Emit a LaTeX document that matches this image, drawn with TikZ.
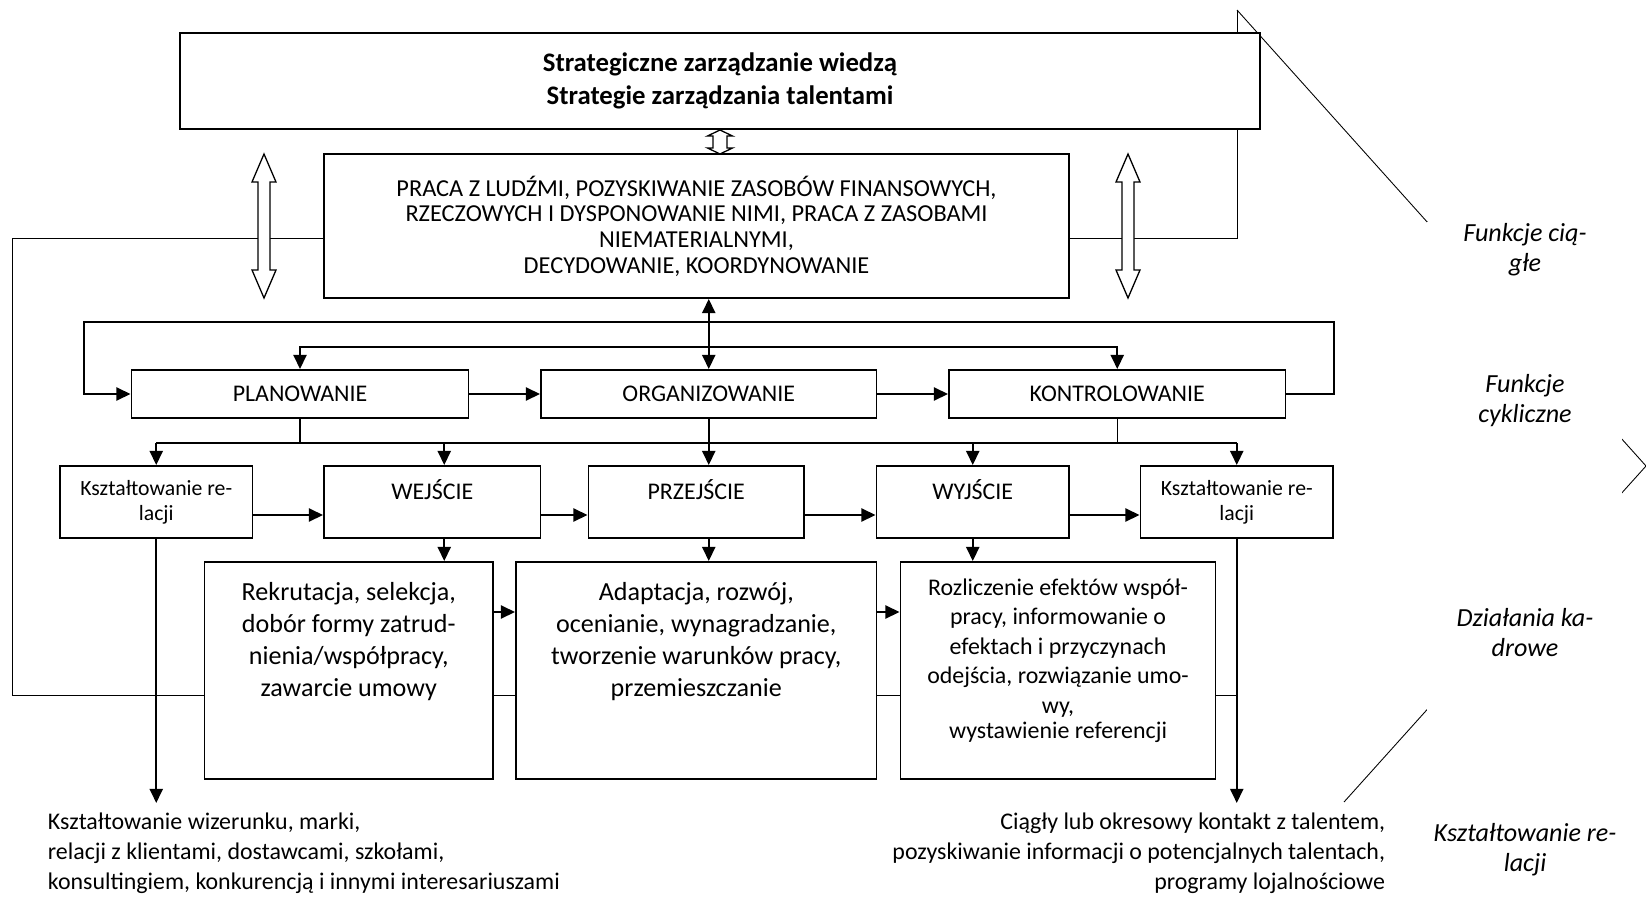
\documentclass[tikz,border=0pt]{standalone}
\usepackage{fontspec}
\setmainfont{Carlito}
\usetikzlibrary{positioning,arrows.meta,backgrounds}

\newcommand{\px}{0.46pt}
% hollow double arrow: x, top, bottom, half shaft, half head, head length
\newcommand{\dblarrow}[6]{%
  \draw[line width=0.6pt,fill=white] (#1,#2) -- (#1+#5,#2+#6) -- (#1+#4,#2+#6) -- (#1+#4,#3-#6)
    -- (#1+#5,#3-#6) -- (#1,#3) -- (#1-#5,#3-#6) -- (#1-#4,#3-#6)
    -- (#1-#4,#2+#6) -- (#1-#5,#2+#6) -- cycle;}

\begin{document}
\begin{tikzpicture}[x=\px,y=-\px,>={Triangle[length=6.5pt,width=6pt]},
  every node/.style={font=\fontsize{11}{13.8}\selectfont},
  box/.style 2 args={draw,line width=0.9pt,fill=white,inner sep=0pt,
    minimum width=#1*\px,minimum height=#2*\px},
  stage/.style={text height=15.5pt,text depth=17.6pt},
  kszt/.style={align=center,font=\fontsize{10}{11.5}\selectfont},
  inbox/.style={anchor=north,align=center,inner sep=0pt},
  side/.style={align=center,font=\itshape\fontsize{12}{13.8}\selectfont},
  conn/.style={line width=1pt},
  thinline/.style={line width=0.7pt}]
\useasboundingbox (0,0) rectangle (1646,899);

% strategy and continuous functions
\node[box={1080}{96},align=center,font=\bfseries\fontsize{12.3}{15}\selectfont] (strat) at (720,81)
  {Strategiczne zarządzanie wiedzą\\Strategie zarządzania talentami};
\node[box={745}{144},align=center,font=\fontsize{11.2}{11.8}\selectfont] (praca) at (696.5,226)
  {PRACA Z LUDŹMI, POZYSKIWANIE ZASOBÓW FINANSOWYCH,\\RZECZOWYCH I DYSPONOWANIE NIMI, PRACA Z ZASOBAMI\\NIEMATERIALNYMI,\\DECYDOWANIE, KOORDYNOWANIE};

% cyclic functions
\node[box={337}{48}] (plan) at (300,394) {PLANOWANIE};
\node[box={335.5}{48}] (org) at (708.75,394) {ORGANIZOWANIE};
\node[box={336.5}{48}] (kontr) at (1117.25,394) {KONTROLOWANIE};

% stages
\node[box={192.5}{72},kszt] (ksztL) at (156.25,502) {Kształtowanie re-\\lacji};
\node[box={216.5}{72},stage] (wej) at (432.25,502) {WEJŚCIE};
\node[box={215.5}{72},stage] (prz) at (696.25,502) {PRZEJŚCIE};
\node[box={192.5}{72},stage] (wyj) at (972.75,502) {WYJŚCIE};
\node[box={192.5}{72},kszt] (ksztR) at (1236.75,502) {Kształtowanie re-\\lacji};

% personnel actions
\node[box={288.5}{217}] (rekr) at (348.75,670.5) {};
\node[inbox,font=\fontsize{12}{14.7}\selectfont] (rekrtxt) at ([yshift=-21*\px]rekr.north)
  {Rekrutacja, selekcja,\\dobór formy zatrud-\\nienia/współpracy,\\zawarcie umowy};
\node[box={360.5}{217}] (adapt) at (696.25,670.5) {};
\node[inbox,font=\fontsize{12}{14.7}\selectfont] (adapttxt) at ([yshift=-21*\px]adapt.north)
  {Adaptacja, rozwój,\\ocenianie, wynagradzanie,\\tworzenie warunków pracy,\\przemieszczanie};
\node[box={315}{217}] (rozl) at (1058,670.5) {};
\node[inbox,font=\fontsize{11}{13.6}\selectfont] (rozltxt) at ([yshift=-17*\px]rozl.north)
  {Rozliczenie efektów współ-\\pracy, informowanie o\\efektach i przyczynach\\odejścia, rozwiązanie umo-\\wy,\\[-2pt]wystawienie referencji};

% relations
\node[anchor=north west,align=left,inner sep=0pt] (wizerunek) at (47.5,812)
  {Kształtowanie wizerunku, marki,\\relacji z klientami, dostawcami, szkołami,\\konsultingiem, konkurencją i innymi interesariuszami};
\node[anchor=north east,align=right,inner sep=0pt] (kontakt) at (1385.5,812)
  {Ciągły lub okresowy kontakt z talentem,\\pozyskiwanie informacji o potencjalnych talentach,\\programy lojalnościowe};

% thin loops and the bracket
\coordinate (brtop) at (1237,10);
\begin{scope}[on background layer,thinline]
\draw ([yshift=-12*\px]praca.west) -| (12.5,695) -- (ksztR.south |- 0,695);
\draw ([yshift=-12*\px]praca.east) -| (brtop);
\draw (brtop) -- (1646,466) -- (1344,802);
\fill[white] (1427,222) rectangle (1622,899);
\end{scope}

\node[side] (lab1) at (1525,249.5) {Funkcje cią-\\głe};
\node[side] (lab2) at (1525,400.5) {Funkcje\\cykliczne};
\node[side] (lab3) at (1525,633) {Działania ka-\\drowe};
\node[side] (lab4) at (1525,849.5) {Kształtowanie re-\\lacji};

% hollow arrows
\dblarrow{720}{130}{154}{7}{12.5}{6}
\dblarrow{264}{154}{298}{6}{12}{28}
\dblarrow{1128}{154}{298}{6}{12}{28}

% connectors
\draw[conn,<->] (org.north |- praca.south) -- (org.north);
\coordinate (split) at (org.north |- 0,347);
\draw[conn,->] (split) -| (plan.north);
\draw[conn,->] (split) -| (kontr.north);
\draw[conn,->] (kontr.east) -- ++(47.5,0) |- (84,322) |- (plan.west);
\draw[conn,->] (plan) -- (org);
\draw[conn,->] (org) -- (kontr);

\draw[thinline] (plan.south) -- ++(0,25);
\draw[thinline] (kontr.south) -- ++(0,25);
\draw[conn] (ksztL.north |- 0,443) -- (ksztR.north |- 0,443);
\draw[conn,->] (ksztL.north |- 0,443) -- (ksztL.north);
\draw[conn,->] ([xshift=12*\px]wej.north |- 0,443) -- ([xshift=12*\px]wej.north);
\draw[conn,->] (org.south) -- (org.south |- prz.north);
\draw[conn,->] (wyj.north |- 0,443) -- (wyj.north);
\draw[conn,->] (ksztR.north |- 0,443) -- (ksztR.north);

\draw[conn,->] ([yshift=-13*\px]ksztL.east) -- ([yshift=-13*\px]wej.west);
\draw[conn,->] ([yshift=-13*\px]wej.east) -- ([yshift=-13*\px]prz.west);
\draw[conn,->] ([yshift=-13*\px]prz.east) -- ([yshift=-13*\px]wyj.west);
\draw[conn,->] ([yshift=-13*\px]wyj.east) -- ([yshift=-13*\px]ksztR.west);

\draw[conn,->] ([xshift=12*\px]wej.south) -- ([xshift=12*\px]wej.south |- rekr.north);
\draw[conn,->] (prz.south -| org) -- (adapt.north -| org);
\draw[conn,->] (wyj.south) -- (wyj.south |- rozl.north);
\draw[conn,->] ([yshift=58.5*\px]rekr.east) -- ([yshift=58.5*\px]adapt.west);
\draw[conn,->] ([yshift=58.5*\px]adapt.east) -- ([yshift=58.5*\px]rozl.west);

\draw[conn,->] (ksztL.south) -- ++(0,264);
\draw[conn,->] (ksztR.south) -- ++(0,264);
\end{tikzpicture}
\end{document}
